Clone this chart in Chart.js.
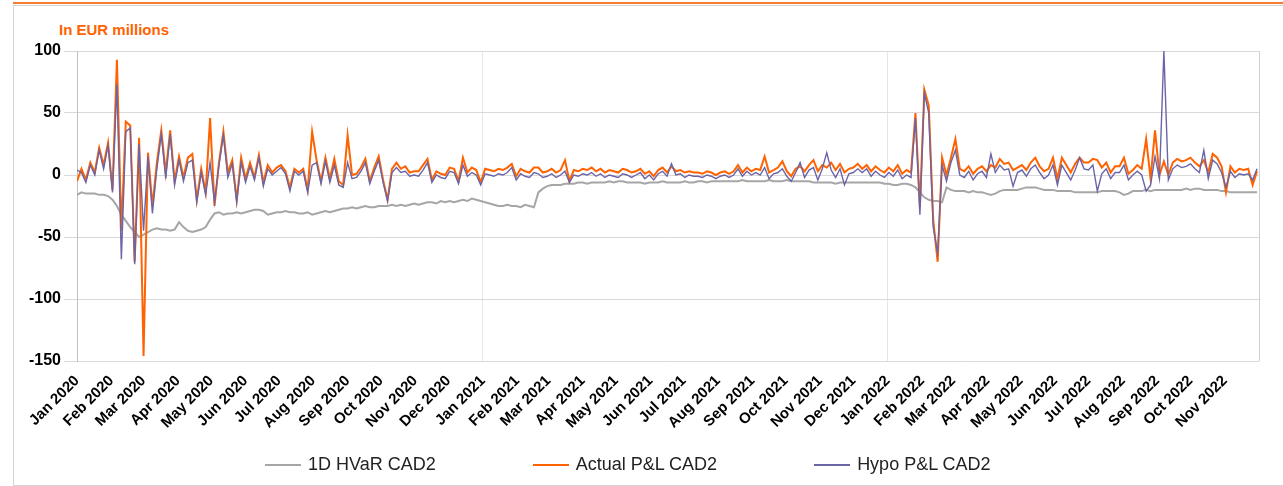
<!DOCTYPE html>
<html>
<head>
<meta charset="utf-8">
<script src="https://cdn.jsdelivr.net/npm/chart.js@4.4.1/dist/chart.umd.min.js"></script>
<style>
  body { margin: 0; background: #fff; width: 1283px; height: 486px; overflow: hidden; position: relative;
         font-family: "Liberation Sans", Arial, sans-serif; }
  #topline { position: absolute; left: 13px; top: 2px; width: 1270px; height: 2px; background: #f57d32; }
  #frame { position: absolute; left: 13px; top: 5px; width: 1280px; height: 479px; border: 1px solid #d4d4d4; border-right: none; }
  #unit { position: absolute; left: 59px; top: 21px; font-weight: bold; font-size: 15px; color: #ff6200; }
  #wrap { position: absolute; left: 0; top: 0; width: 1283px; height: 486px; }
  #legend { position: absolute; left: 265px; top: 454px; display: flex; gap: 97px; font-size: 18px; color: #222; }
  .item { display: flex; align-items: center; }
  .swatch { width: 36px; height: 2px; margin-right: 7px; }
</style>
</head>
<body>
<div id="topline"></div>
<div id="frame"></div>
<div id="unit">In EUR millions</div>
<div id="wrap"><canvas id="chart"></canvas></div>
<div id="legend"></div>
<script>
// month ticks, in days since 1 Jan 2020
const monthDays = [0, 31, 60, 91, 121, 152, 182, 213, 244, 274, 305, 335,
  366, 397, 425, 456, 486, 517, 547, 578, 609, 639, 670, 700,
  731, 762, 790, 821, 851, 882, 912, 943, 974, 1004, 1035];
const monthLabels = ['Jan 2020', 'Feb 2020', 'Mar 2020', 'Apr 2020', 'May 2020', 'Jun 2020', 'Jul 2020', 'Aug 2020', 'Sep 2020', 'Oct 2020', 'Nov 2020', 'Dec 2020',
  'Jan 2021', 'Feb 2021', 'Mar 2021', 'Apr 2021', 'May 2021', 'Jun 2021', 'Jul 2021', 'Aug 2021', 'Sep 2021', 'Oct 2021', 'Nov 2021', 'Dec 2021',
  'Jan 2022', 'Feb 2022', 'Mar 2022', 'Apr 2022', 'May 2022', 'Jun 2022', 'Jul 2022', 'Aug 2022', 'Sep 2022', 'Oct 2022', 'Nov 2022'];
const yearStarts = [366, 731];
const lastDay = 1066;
const dayStep = 4; // readings taken every 4 days

const seriesNames = ['1D HVaR CAD2', 'Actual P&L CAD2', 'Hypo P&L CAD2'];
const seriesColors = ['#a6a6a6', '#ff6200', '#6a64a8'];

const hvar = [
  -16, -14, -15, -15, -15, -16, -16, -17, -20, -25,
  -32, -37, -42, -46, -50, -48, -46, -44, -43, -44,
  -44, -45, -44, -38, -42, -45, -46, -45, -44, -42,
  -36, -31, -30, -32, -31, -31, -30, -31, -30, -29,
  -28, -28, -29, -32, -31, -30, -30, -29, -30, -30,
  -31, -31, -30, -32, -31, -30, -29,
  -30, -29, -28, -27, -27, -26, -27, -26, -25, -26,
  -26, -25, -25, -25, -24, -25, -24, -25, -24, -23,
  -24, -23, -22, -22, -23, -21, -22, -21, -22, -21,
  -20, -21, -19, -20, -21, -22, -23, -24, -25, -25,
  -24, -25, -25, -26, -24, -25, -26, -14, -11, -9,
  -8, -8, -8, -7, -7, -7, -6, -6, -7, -6,
  -6, -6, -6, -5, -6, -5, -5, -6,
  -6, -6, -6, -7, -6, -6, -6, -5, -6, -6,
  -6, -6, -5, -6, -6, -5, -5, -6, -5, -5,
  -5, -5, -5, -5, -5, -4, -5, -5, -5, -5,
  -5, -4, -5, -5, -5, -4, -5, -5, -5, -5,
  -5, -6, -6, -6, -6, -6, -7, -6, -6, -6,
  -6, -6,
  -6, -6, -6, -6, -6, -7, -7, -8, -8, -7,
  -7, -8, -10, -14, -18, -20, -21, -21, -22, -10,
  -12, -13, -13, -13, -14, -13, -14, -14, -15, -16,
  -15, -13, -12, -12, -12, -12, -11, -10, -10, -10,
  -11, -12, -12, -12, -13, -13, -13, -13, -14, -14,
  -14, -14, -14, -14, -13, -13, -13, -13, -14, -16,
  -15, -13, -13, -13, -12, -13, -12, -12, -12, -12,
  -12, -12, -12, -11, -12, -11, -11, -12, -12, -12,
  -12, -13, -13, -14, -14, -14, -14, -14, -14, -14
];

const actual = [
  -5, 5, -4, 10, 2, 22, 8, 26, -12, 93,
  -45, 43, 40, -70, 30, -146, 18, -25, 10, 36,
  2, 36, -5, 15, -2, 14, 17, -20, 5, -14,
  46, -25, 10, 35, 2, 12, -20, 14, -3, 10,
  -2, 16, -6, 8, 2, 6, 8, 3, -10, 5,
  2, 5, -12, 35, 12, -5, 14,
  -3, 13, -5, -8, 32, 0, 1, 6, 13, -5,
  6, 15, -4, -20, 5, 10, 5, 7, 2, 3,
  3, 8, 13, -4, 3, 1, 0, 6, 5, -5,
  14, 2, 6, 4, -6, 5, 4, 3, 5, 4,
  6, 9, -1, 5, 3, 2, 6, 6, 2, 3,
  5, 2, 4, 12, -5, 4, 3, 5, 4, 6,
  3, 5, 2, 4, 3, 2, 5, 4,
  2, 3, 5, 1, 3, -1, 4, 6, 2, 7,
  3, 4, 2, 3, 2, 2, 1, 3, 2, 0,
  2, 3, 1, 3, 8, 2, 6, 3, 5, 4,
  15, 2, 4, 6, 11, 3, -1, 5, 7, 3,
  8, 12, 3, 8, 6, 10, 4, 9, 2, 5,
  6, 9,
  5, 8, 3, 7, 4, 2, 6, 3, 8, 1,
  4, 2, 50, -26, 69, 56, -36, -70, 14, 0,
  14, 29, 5, 3, 7, 1, 5, 7, 3, 8,
  6, 13, 9, 10, 4, 6, 8, 4, 10, 14,
  7, 3, 5, 14, -3, 14, 8, 2, 9, 14,
  10, 10, 13, 12, 6, 10, 2, 7, 7, 14,
  1, 4, 8, 5, 29, -3, 36, 0, 11, 0,
  10, 13, 11, 12, 14, 10, 7, 12, 2, 17,
  14, 7, -14, 7, 2, 5, 4, 5, -8, 3
];

const hypo = [
  4, 2, -6, 8, 0, 20, 5, 24, -14, 73,
  -68, 35, 38, -72, 25, -45, 15, -31, 5, 33,
  -3, 33, -8, 12, -5, 10, 12, -22, 2, -16,
  10, -22, 8, 32, -2, 9, -22, 10, -6, 7,
  -4, 14, -9, 5, 0, 3, 6, 1, -13, 3,
  0, 3, -14, 8, 10, -7, 11,
  -6, 8, -8, -10, 10, -3, -2, 3, 10, -7,
  3, 12, -6, -21, 2, 6, 2, 3, -1, 0,
  -1, 4, 10, -6, 0, -2, -3, 3, 2, -7,
  8, -1, 2, 0, -8, 1, 0, -1, 1, 0,
  2, 6, -4, 1, -1, -2, 2, 1, -2, -1,
  1, -2, 0, 3, -6, 0, -1, 1, 0, 2,
  -1, 1, -2, 0, -1, -2, 1, 0,
  -2, 0, 2, -3, 0, -4, 1, 3, -1, 9,
  0, 1, -2, 0, -1, -1, -2, 0, -1, -3,
  -1, 0, -2, 0, 5, -1, 3, 0, 2, 0,
  6, -3, 1, 2, 5, -1, -5, 2, 10, -2,
  4, 6, -4, 5, 18, 4, -2, 5, -8, 1,
  2, 5,
  2, 5, -1, 3, 0, -2, 2, -1, 4, -3,
  0, -2, 46, -32, 66, 50, -42, -63, 8, -5,
  10, 20, 0, -2, 3, -4, 1, 3, -2, 17,
  2, 8, 4, 5, -9, 2, 4, -1, 5, 8,
  2, -3, 0, 8, -8, 8, 2, -4, 4, 14,
  5, 4, 8, -13, 1, 5, -3, 2, 2, 8,
  -4, 0, 3, 0, -13, -8, 15, -3, 100, -4,
  5, 8, 6, 7, 9, 5, 2, 20, -3, 12,
  9, 2, -10, 3, -2, 1, 0, 1, -4, 5
];

const fontFamily = '"Liberation Sans", Arial, sans-serif';

function toPoints(vals) {
  return vals.map((v, i) => ({ x: i * dayStep, y: v }));
}

const seriesData = [hvar, actual, hypo];
const lineWidths = [2, 2, 1.4];
const drawOrder = [3, 2, 1]; // hypo on top

const datasets = seriesData.map((vals, k) => ({
  label: seriesNames[k],
  data: toPoints(vals),
  borderColor: seriesColors[k],
  backgroundColor: seriesColors[k],
  borderWidth: lineWidths[k],
  pointRadius: 0,
  tension: 0,
  order: drawOrder[k]
}));

new Chart(document.getElementById('chart'), {
  type: 'line',
  data: { datasets: datasets },
  options: {
    animation: false,
    responsive: true,
    maintainAspectRatio: false,
    layout: { padding: { top: 51, right: 3, left: 0, bottom: 0 } },
    plugins: { legend: { display: false }, tooltip: { enabled: false } },
    scales: {
      x: {
        type: 'linear',
        min: 0,
        max: lastDay,
        afterBuildTicks: (s) => {
          s.ticks = monthDays.map(v => ({ value: v })).concat([{ value: lastDay }]);
        },
        afterFit: (s) => { s.height = 125; },
        ticks: {
          autoSkip: false,
          minRotation: 45,
          maxRotation: 45,
          padding: 11,
          color: '#000',
          font: { family: fontFamily, size: 15, weight: 'bold' },
          callback: (v) => {
            const k = monthDays.indexOf(v);
            return k >= 0 ? monthLabels[k] : '';
          }
        },
        grid: {
          drawTicks: false,
          color: (ctx) => {
            const v = ctx.tick ? ctx.tick.value : null;
            if (yearStarts.includes(v)) return '#e6e6e6';
            if (v === lastDay) return '#d0d0d0';
            return 'rgba(0,0,0,0)';
          }
        },
        border: { display: false }
      },
      y: {
        min: -150,
        max: 100,
        afterFit: (s) => { s.width = 77; },
        ticks: {
          stepSize: 50,
          padding: 3,
          color: '#000',
          font: { family: fontFamily, size: 16, weight: 'bold' }
        },
        grid: { color: '#d9d9d9', tickLength: 13 },
        border: { color: '#bfbfbf' }
      }
    }
  }
});

// legend under the plot
const legend = document.getElementById('legend');
seriesNames.forEach((name, k) => {
  const item = document.createElement('div');
  item.className = 'item';
  const sw = document.createElement('span');
  sw.className = 'swatch';
  sw.style.background = seriesColors[k];
  const txt = document.createElement('span');
  txt.textContent = name;
  item.appendChild(sw);
  item.appendChild(txt);
  legend.appendChild(item);
});
</script>
</body>
</html>
